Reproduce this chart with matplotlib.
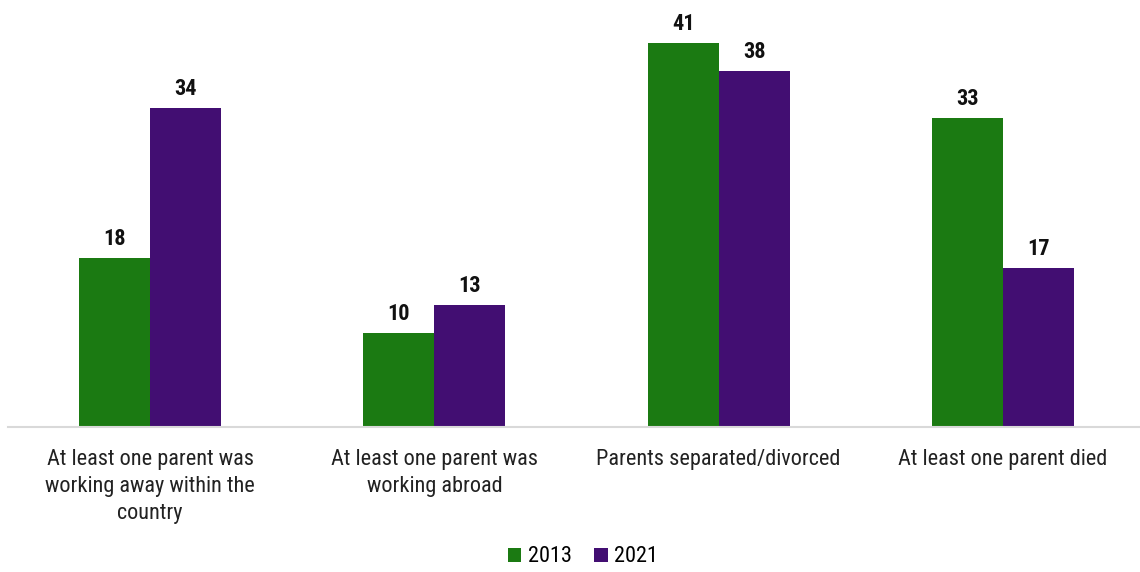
import matplotlib
matplotlib.use('Agg')
import matplotlib.pyplot as plt
from matplotlib import font_manager
import numpy as np

categories = ['At least one parent was\nworking away within the\ncountry',
              'At least one parent was\nworking abroad',
              'Parents separated/divorced',
              'At least one parent died']
series_names = ['2013', '2021']
values_2013 = [18, 10, 41, 33]
values_2021 = [34, 13, 38, 17]
colors = ['#1B7A12', '#420E72']

names = {f.name for f in font_manager.fontManager.ttflist}
fam = 'Roboto Condensed' if 'Roboto Condensed' in names else 'Roboto'
plt.rcParams['font.family'] = [fam, 'DejaVu Sans']

fig = plt.figure(figsize=(11.4, 5.72), dpi=100)
ax = fig.add_axes([8/1140, 1 - 427/572, 1137/1140, 422/572])

x = np.arange(len(categories))
w = 0.25
for i, (vals, name) in enumerate(zip([values_2013, values_2021], series_names)):
    pos = x + (i - 0.5) * w
    ax.bar(pos, vals, width=w, color=colors[i], label=name)
    for xp, v in zip(pos, vals):
        ax.text(xp, v + 0.85, str(v), ha='center', va='bottom',
                fontsize=16, fontweight='bold', color='#111111')

ax.set_xlim(-0.5, 3.5)
ax.set_ylim(0, 45)
ax.set_yticks([])
ax.set_xticks(x)
ax.set_xticklabels(categories, fontsize=16, color='#222222', linespacing=1.36)
ax.tick_params(axis='x', length=0, pad=16)
for s in ['top', 'right', 'left']:
    ax.spines[s].set_visible(False)
ax.spines['bottom'].set_color('#d9d9d9')
ax.spines['bottom'].set_linewidth(1.5)

fig.legend(loc='center', bbox_to_anchor=(583/1140, 1 - 557/572), ncol=2,
           frameon=False, fontsize=16, handlelength=0.6, handleheight=0.6,
           handletextpad=0.3, columnspacing=1.0)

fig.savefig('out.png', dpi=100)
